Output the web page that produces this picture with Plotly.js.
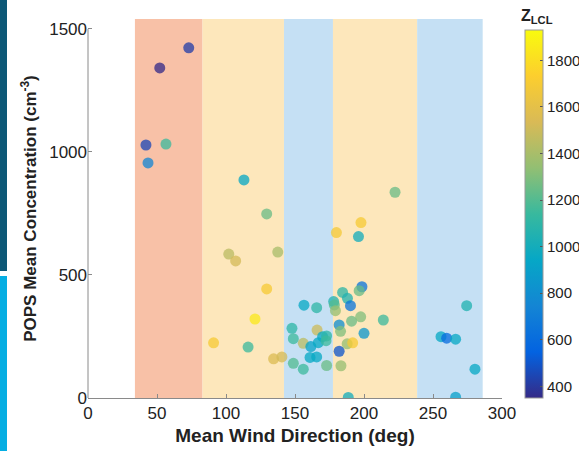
<!DOCTYPE html>
<html>
<head>
<meta charset="utf-8">
<script src="https://cdn.plot.ly/plotly-3.0.1.min.js"></script>
<style>html,body{margin:0;padding:0;background:#fff;}#chart{width:579px;height:451px;}</style>
</head>
<body>
<div id="chart"></div>
<script>
// Mean wind direction (deg)
const windDir = [73, 52, 42, 56.5, 43.5, 113, 129.5, 102, 107, 137.5, 129.5, 121, 91, 116, 134.5, 140.5,
  222.5, 197.8, 180, 196, 184.5, 188, 198.5, 196.5, 156.5, 165.7, 178, 178.5, 179.3, 190.2,
  147.8, 148.8, 166, 156, 161.5, 166.9, 170, 172.9, 172.5, 182, 191, 197.6, 183, 200, 214,
  182, 187.8, 191.8, 160.9, 165.7, 148.8, 156, 172.9, 183.3, 188.6, 255.8, 259.9, 266.4, 274.4, 280.4, 266.4];
// POPS mean concentration (cm^-3)
const popsConc = [1423, 1341, 1028, 1032, 955, 886, 748, 585, 557, 593, 443, 321, 224, 207, 159, 167,
  836, 713, 672, 656, 429, 405, 452, 436, 377, 367, 392, 378, 355, 375,
  283, 241, 276, 222, 209, 225, 249, 252, 233, 297, 312, 330, 271, 263, 317,
  190, 220, 224, 165, 167, 141, 117, 132, 131, 2, 249, 243, 239, 375, 117, 3];
// Z_LCL (colour)
const zLCL = [420, 350, 450, 1150, 750, 950, 1250, 1450, 1520, 1400, 1700, 1850, 1700, 1150, 1550, 1520,
  1250, 1700, 1680, 1000, 1100, 1050, 650, 1250, 950, 1100, 1050, 1200, 1350, 650,
  1100, 1150, 1500, 1450, 920, 950, 950, 1100, 1150, 800, 1250, 1300, 1300, 850, 1150,
  500, 1350, 1700, 950, 950, 1200, 1150, 1250, 1350, 1000, 950, 600, 950, 1050, 950, 900];
// Wind regime shading bands (deg)
const bandStart = [34, 83, 142, 177.5, 238.5];
const bandEnd   = [83, 142, 177.5, 238.5, 286];
const bandColor = ['#f8c1a7', '#fde7bb', '#c5e0f4', '#fde7bb', '#c5e0f4'];
const xTicks = [0, 50, 100, 150, 200, 250, 300];
const yTicks = [0, 500, 1000, 1500];
const cTicks = [400, 600, 800, 1000, 1200, 1400, 1600, 1800];

const parula = [
  [0.0, '#352a87'], [0.125, '#0363e1'], [0.25, '#1485d4'], [0.375, '#06a7c6'],
  [0.5, '#38b99e'], [0.625, '#92bf73'], [0.75, '#d9ba56'], [0.875, '#fcce2e'], [1.0, '#f9fb0e']
];

// pixel -> paper helpers (plot area x:88..502, y:19..398)
const L = 88, R = 502, T = 19, B = 398;
const px = v => (v - L) / (R - L);
const py = v => (B - v) / (B - T);

const shapes = [];
for (let i = 0; i < bandStart.length; i++) {
  shapes.push({type: 'rect', xref: 'x', yref: 'paper', x0: bandStart[i], x1: bandEnd[i], y0: 0, y1: 1,
    fillcolor: bandColor[i], line: {width: 0}, layer: 'below'});
}
// y axis line from 0 to 1500
shapes.push({type: 'line', xref: 'paper', yref: 'y', x0: 0, x1: 0, y0: 0, y1: 1500,
  line: {color: '#8a8a8a', width: 1}});
// slide decoration bars at left edge
shapes.push({type: 'rect', xref: 'paper', yref: 'paper', x0: px(0), x1: px(7), y0: py(0), y1: py(271),
  fillcolor: '#0d5877', line: {width: 0}});
shapes.push({type: 'rect', xref: 'paper', yref: 'paper', x0: px(0), x1: px(7), y0: py(276), y1: py(451),
  fillcolor: '#05aee3', line: {width: 0}});

const trace = {
  type: 'scatter', mode: 'markers', x: windDir, y: popsConc,
  marker: {
    size: 11, color: zLCL, colorscale: parula, cmin: 350, cmax: 1930, opacity: 0.76,
    line: {width: 0},
    colorbar: {
      x: px(525), xanchor: 'left', xref: 'paper',
      y: 0, yanchor: 'bottom', yref: 'paper',
      lenmode: 'pixels', len: 368, thickness: 18,
      outlinecolor: '#999', outlinewidth: 1,
      ticks: 'inside', ticklen: 3, tickcolor: '#555',
      tickvals: cTicks, ticktext: cTicks.map(String),
      tickfont: {family: 'Liberation Sans, Arial, sans-serif', size: 15, color: '#222'},
      ypad: 0, xpad: 0
    }
  },
  hoverinfo: 'x+y'
};

const layout = {
  width: 579, height: 451,
  margin: {l: L, r: 579 - R, t: T, b: 451 - B, pad: 0, autoexpand: false},
  paper_bgcolor: '#ffffff', plot_bgcolor: '#ffffff',
  showlegend: false,
  font: {family: 'Liberation Sans, Arial, sans-serif', color: '#222'},
  xaxis: {
    range: [0, 300], tickvals: xTicks, ticktext: xTicks.map(String),
    ticks: 'inside', ticklen: 4, tickcolor: '#8a8a8a',
    showline: true, linecolor: '#8a8a8a', linewidth: 1, mirror: false,
    showgrid: false, zeroline: false, automargin: false,
    tickfont: {size: 17, color: '#222'},
    title: {text: '<b>Mean Wind Direction (deg)</b>', font: {size: 19, color: '#222'}, standoff: 6}
  },
  yaxis: {
    range: [0, 1540], tickvals: yTicks, ticktext: yTicks.map(String),
    ticks: 'inside', ticklen: 4, tickcolor: '#8a8a8a',
    showline: false, showgrid: false, zeroline: false, automargin: false,
    tickfont: {size: 17, color: '#222'},
    title: {text: '<b>POPS Mean Concentration (cm<sup>-3</sup>)</b>', font: {size: 17, color: '#222'}, standoff: 8}
  },
  shapes: shapes,
  annotations: [{
    xref: 'paper', yref: 'paper', x: px(537), y: py(16), xanchor: 'center', yanchor: 'middle',
    text: '<b>Z<sub>LCL</sub></b>', showarrow: false, font: {size: 16, color: '#222'}
  }]
};

Plotly.newPlot('chart', [trace], layout, {displayModeBar: false, staticPlot: true});
</script>
</body>
</html>
